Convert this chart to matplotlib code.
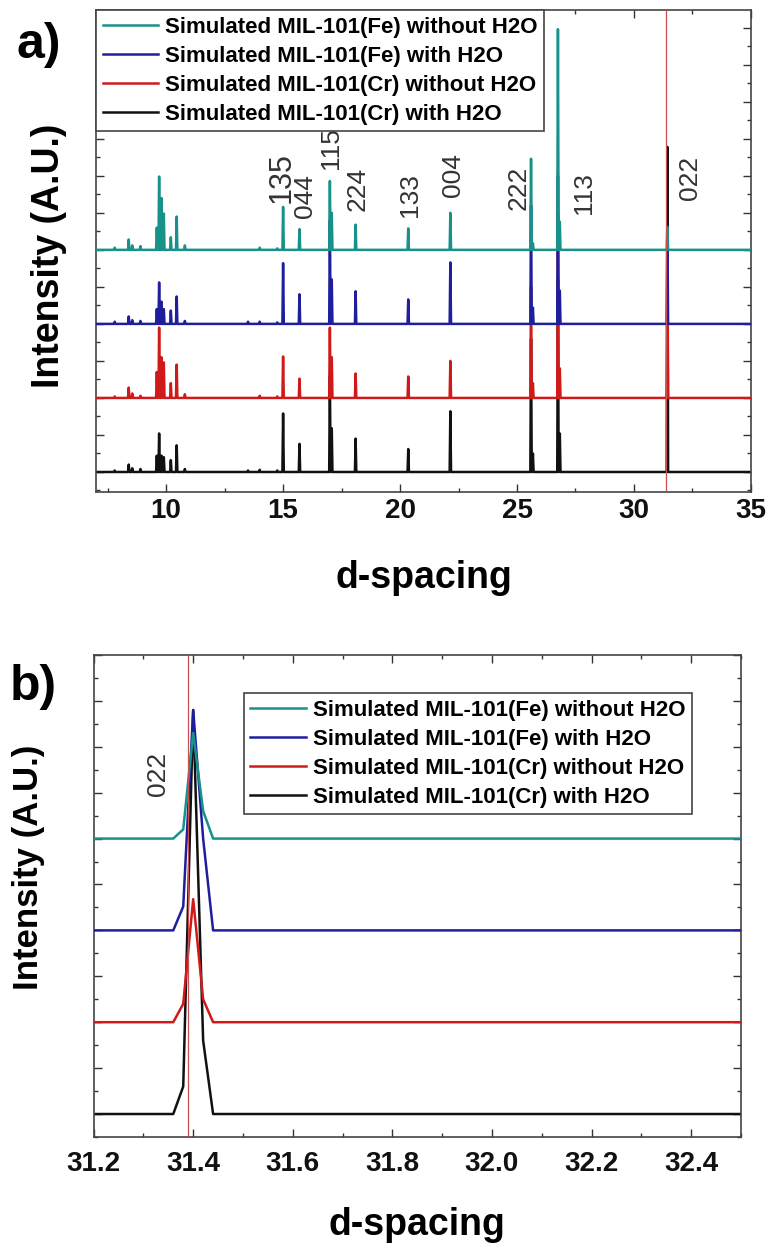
import matplotlib
matplotlib.use("Agg")
import matplotlib.pyplot as plt
from matplotlib.ticker import MultipleLocator, FormatStrFormatter

plt.rcParams['font.family'] = ['Liberation Sans', 'DejaVu Sans']

# ---- panel a: stick patterns (d-spacing, intensity in units of the offset) ----
peak_pos = [7.8, 8.4, 8.55, 8.9, 9.6, 9.7, 9.8, 9.9, 10.2, 10.45, 10.8, 13.5, 14.0,
            14.75, 15.0, 15.7, 17.0, 17.08, 18.1, 20.35, 22.15, 25.6, 25.68, 26.75,
            26.83, 31.43]
fe_dry = [0.03, 0.14, 0.06, 0.05, 0.30, 0.99, 0.70, 0.49, 0.17, 0.45, 0.06, 0.0, 0.03,
          0.02, 0.58, 0.28, 0.93, 0.50, 0.34, 0.29, 0.50, 1.23, 0.09, 2.98, 0.38, 0.31]
fe_wet = [0.03, 0.10, 0.05, 0.04, 0.20, 0.56, 0.30, 0.20, 0.18, 0.37, 0.04, 0.03, 0.03,
          0.02, 0.82, 0.40, 1.40, 0.60, 0.44, 0.33, 0.83, 1.60, 0.22, 2.00, 0.45, 1.30]
cr_dry = [0.02, 0.14, 0.06, 0.03, 0.35, 0.95, 0.55, 0.48, 0.20, 0.45, 0.05, 0.0, 0.03,
          0.02, 0.56, 0.26, 0.95, 0.55, 0.33, 0.29, 0.50, 1.50, 0.20, 2.50, 0.40, 1.40]
cr_wet = [0.02, 0.10, 0.05, 0.04, 0.22, 0.52, 0.22, 0.20, 0.16, 0.36, 0.04, 0.02, 0.03,
          0.02, 0.79, 0.38, 1.30, 0.59, 0.45, 0.31, 0.82, 1.80, 0.25, 2.60, 0.52, 4.39]

hkl_labels = ['135', '044', '115', '224', '133', '004', '222', '113', '022']
hkl_x = [14.95, 15.95, 17.06, 18.17, 20.44, 22.28, 25.07, 27.85, 32.4]
hkl_y = [3.97, 3.72, 4.37, 3.82, 3.74, 4.01, 3.84, 3.77, 3.97]

# ---- panel b: zoom on the 022 reflection ----
d_zoom = [31.20, 31.36, 31.38, 31.40, 31.42, 31.44, 32.50]
fe_dry_b = [0, 0, 0.10, 1.15, 0.30, 0, 0]
fe_wet_b = [0, 0, 0.26, 2.40, 1.00, 0, 0]
cr_dry_b = [0, 0, 0.20, 1.34, 0.25, 0, 0]
cr_wet_b = [0, 0, 0.30, 4.40, 0.80, 0, 0]

names = ['Simulated MIL-101(Fe) without H2O', 'Simulated MIL-101(Fe) with H2O',
         'Simulated MIL-101(Cr) without H2O', 'Simulated MIL-101(Cr) with H2O']
colors = ['#17918a', '#1f1f9e', '#d01a1a', '#111111']
offsets = [3, 2, 1, 0]
ref_line = 31.39


def sticks(pos, heights, xmin, xmax, hw=0.03):
    xs, ys = [xmin], [0]
    for p, h in sorted(zip(pos, heights)):
        xs += [p - hw, p, p + hw]
        ys += [0, h, 0]
    xs.append(xmax)
    ys.append(0)
    return xs, ys


def style_axes(ax, pad=4):
    ax.tick_params(which='both', direction='in', top=True, right=True,
                   labelleft=False, width=1, colors='#333333')
    ax.tick_params(which='major', length=6, labelsize=20, labelcolor='#111111', pad=pad)
    ax.tick_params(which='minor', length=3)
    for lab in ax.get_xticklabels():
        lab.set_fontweight('bold')
    for s in ax.spines.values():
        s.set_color('#444444')
        s.set_linewidth(1.2)
    ax.yaxis.set_major_locator(MultipleLocator(0.5))
    ax.yaxis.set_minor_locator(MultipleLocator(0.25))


def add_legend(ax, hs, **kw):
    leg = ax.legend(handles=hs, loc='upper left', borderaxespad=0, handlelength=2.5,
                    handletextpad=0.3, labelspacing=0.36, fancybox=False,
                    edgecolor='#444444', framealpha=1, borderpad=0.3,
                    prop={'weight': 'bold', 'size': 16}, **kw)
    leg.get_frame().set_linewidth(1.2)
    return leg


fig = plt.figure(figsize=(7.66, 12.43), dpi=100)

# ---------------- a) ----------------
ax1 = fig.add_axes([0.1253, 0.6042, 0.855, 0.3878])
series_a = [fe_dry, fe_wet, cr_dry, cr_wet]
handles = []
for i in [3, 2, 1, 0]:
    xs, ys = sticks(peak_pos, series_a[i], 7, 35)
    ln, = ax1.plot(xs, [y + offsets[i] for y in ys], color=colors[i], lw=1.8,
                   zorder=2 + (3 - i), label=names[i])
    handles.append(ln)
handles = handles[::-1]
ax1.axvline(ref_line, color='#c85050', lw=0.9, zorder=10)
for t, x, y in zip(hkl_labels, hkl_x, hkl_y):
    ax1.text(x, y, t, rotation=90, ha='center', va='center', color='#333333',
             fontsize=22 if t == '135' else 19)
ax1.set_xlim(7, 35)
ax1.set_ylim(-0.27, 6.24)
ax1.xaxis.set_major_locator(MultipleLocator(5))
ax1.xaxis.set_minor_locator(MultipleLocator(2.5))
style_axes(ax1)
ax1.set_xlabel('d-spacing', fontsize=27, fontweight='bold', labelpad=26)
ax1.set_ylabel('Intensity (A.U.)', fontsize=27, fontweight='bold')
ax1.yaxis.set_label_coords(-0.045, 0.49)
add_legend(ax1, handles)
fig.text(0.051, 0.964, 'a)', fontsize=36, fontweight='bold', ha='center', va='center')

# ---------------- b) ----------------
ax2 = fig.add_axes([0.1222, 0.0853, 0.845, 0.3878])
series_b = [fe_dry_b, fe_wet_b, cr_dry_b, cr_wet_b]
hb = []
for i in [3, 2, 1, 0]:
    ln, = ax2.plot(d_zoom, [y + offsets[i] for y in series_b[i]], color=colors[i],
                   lw=1.8, zorder=2 + (3 - i), label=names[i])
    hb.append(ln)
hb = hb[::-1]
ax2.axvline(ref_line, color='#c85050', lw=0.9, zorder=10)
ax2.text(31.33, 3.7, '022', rotation=90, ha='center', va='center', color='#333333',
         fontsize=19)
ax2.set_xlim(31.2, 32.5)
ax2.set_ylim(-0.25, 5.0)
ax2.xaxis.set_major_locator(MultipleLocator(0.2))
ax2.xaxis.set_minor_locator(MultipleLocator(0.1))
ax2.xaxis.set_major_formatter(FormatStrFormatter('%.1f'))
style_axes(ax2, pad=10)
ax2.set_xlabel('d-spacing', fontsize=27, fontweight='bold', labelpad=22)
ax2.set_ylabel('Intensity (A.U.)', fontsize=25, fontweight='bold')
ax2.yaxis.set_label_coords(-0.075, 0.56)
add_legend(ax2, hb, bbox_to_anchor=(0.232, 0.921))
fig.text(0.043, 0.447, 'b)', fontsize=36, fontweight='bold', ha='center', va='center')

fig.savefig('out.png', dpi=100)
